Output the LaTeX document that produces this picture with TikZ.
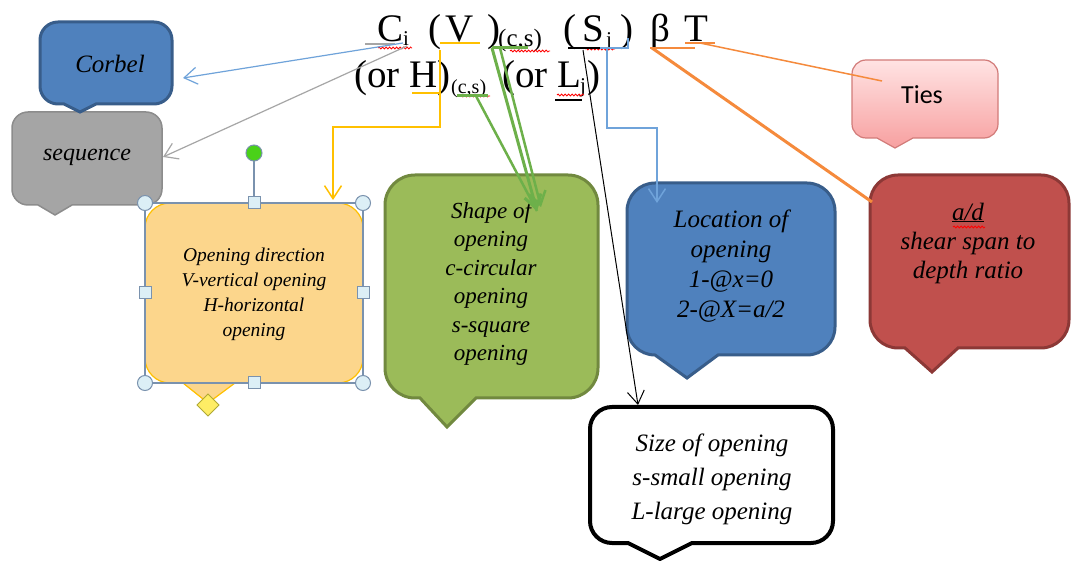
\documentclass[tikz,border=0pt]{standalone}
\usepackage{fontspec}
\setmainfont{Liberation Serif}
\newfontfamily\calibrifont{Carlito}
\usetikzlibrary{arrows.meta,decorations.pathmorphing}

\definecolor{blueFill}{HTML}{4F81BD}
\definecolor{blueEdge}{HTML}{385D8A}
\definecolor{grayFill}{HTML}{A5A5A5}
\definecolor{grayEdge}{HTML}{8C8C8C}
\definecolor{dirFill}{HTML}{FCD68C}
\definecolor{dirEdge}{HTML}{FFC000}
\definecolor{greenFill}{HTML}{9BBB59}
\definecolor{greenEdge}{HTML}{71893F}
\definecolor{redFill}{HTML}{C0504D}
\definecolor{redEdge}{HTML}{8C3836}
\definecolor{pinkTop}{HTML}{FFE3E3}
\definecolor{pinkBot}{HTML}{F7A0A0}
\definecolor{pinkEdge}{HTML}{D27B79}
\definecolor{lnBlue}{HTML}{6FA3DA}
\definecolor{lnGray}{HTML}{A6A6A6}
\definecolor{lnYellow}{HTML}{FFC000}
\definecolor{lnGreen}{HTML}{6DB04A}
\definecolor{lnOrange}{HTML}{F58A3C}
\definecolor{handleEdge}{HTML}{7A92AE}
\definecolor{handleFill}{HTML}{DCEFF6}

% rounded callout box with a pointer on its lower edge
% #1 style, #2-#5 box corners, #6 corner radius, #7/#8 pointer base, #9 pointer tip
\newcommand\callbox[9]{%
  \path[#1] (#2,{#3+#6}) arc[start angle=180,end angle=270,radius=#6]
    -- ({#4-#6},#3) arc[start angle=270,end angle=360,radius=#6]
    -- (#4,{#5-#6}) arc[start angle=0,end angle=90,radius=#6]
    -- (#8,#5) -- #9 -- (#7,#5)
    -- ({#2+#6},#5) arc[start angle=90,end angle=180,radius=#6] -- cycle;}

\begin{document}
\begin{tikzpicture}[x=1pt,y=-1pt,
  formula/.style={anchor=base west,inner sep=0pt,font=\fontsize{39}{42}\selectfont},
  formsub/.style={anchor=base west,inner sep=0pt,font=\fontsize{21}{24}\selectfont},
  formidx/.style={anchor=base west,inner sep=0pt,font=\fontsize{25}{28}\selectfont},
  formsubsmall/.style={anchor=base west,inner sep=0pt,font=\fontsize{20}{22}\selectfont},
  note/.style={align=center,inner sep=0pt},
  corbelbox/.style={fill=blueFill,draw=blueEdge,line width=3pt},
  seqbox/.style={fill=grayFill,draw=grayEdge,line width=1.5pt},
  dirbox/.style={fill=dirFill,draw=dirEdge,line width=1.2pt},
  shapebox/.style={fill=greenFill,draw=greenEdge,line width=3pt},
  locbox/.style={fill=blueFill,draw=blueEdge,line width=3pt},
  tiesbox/.style={top color=pinkTop,bottom color=pinkBot,draw=pinkEdge,line width=1.2pt},
  adbox/.style={fill=redFill,draw=redEdge,line width=3pt},
  sizebox/.style={fill=white,draw=black,line width=4pt},
  barb/.style={-{Straight Barb[length=13pt,width=17pt]}},
  thinln/.style={line width=1.2pt},
  squig/.style={red,line width=0.8pt,decorate,decoration={snake,amplitude=1pt,segment length=3.5pt}},
  handle/.style={fill=handleFill,draw=handleEdge,line width=1pt}
]
\path[fill=white] (0,0) rectangle (1072,561);
\useasboundingbox (0,0) rectangle (1072,561);

% ---- callout boxes ----
\callbox{seqbox}{12}{112}{162}{205}{16}{38}{72}{(55,215)}
\callbox{corbelbox}{40}{22}{172}{104}{18}{64}{96}{(80,112)}
\callbox{dirbox}{145}{203}{363}{383}{25}{183}{235}{(208,403)}
\callbox{shapebox}{385}{175}{598}{398}{30}{420}{476}{(447,427)}
\callbox{locbox}{627}{183}{835}{355}{28}{655}{718}{(687,378)}
\callbox{tiesbox}{852}{60}{998}{138}{14}{877}{913}{(895,148)}
\callbox{adbox}{870}{175}{1069}{348}{28}{905}{958}{(932,372)}
\callbox{sizebox}{590}{407}{833}{543}{22}{628}{692}{(660,559)}

% ---- box texts ----
\node[note,font=\itshape\fontsize{25}{30}\selectfont] (tCorbel) at (110,64) {Corbel};
\node[note,font=\itshape\fontsize{24}{28}\selectfont] (tSeq) at (87,157) {sequence};
\node[note,font=\itshape\fontsize{19.5}{25}\selectfont] (tDir) at (254,294)
  {Opening direction\\V-vertical opening\\H-horizontal\\opening};
\node[note,font=\itshape\fontsize{23}{28.5}\selectfont] (tShape) at (491,284)
  {Shape of\\opening\\c-circular\\opening\\s-square\\opening};
\node[note,font=\itshape\fontsize{25}{30}\selectfont] (tLoc) at (731,266)
  {Location of\\opening\\1-@x=0\\2-@X=a/2};
\node[note,font=\calibrifont\fontsize{26}{30}\selectfont] (tTies) at (922,95) {Ties};
\node[note,font=\itshape\fontsize{25}{29}\selectfont] (tAd) at (968,243)
  {\underline{a/d}\\shear span to\\depth ratio};
\node[note,font=\itshape\fontsize{25}{34}\selectfont] (tSize) at (712,479)
  {Size of opening\\s-small opening\\L-large opening};

% ---- selection frame around the opening-direction box ----
\draw[handleEdge,line width=1.2pt] (145,203) rectangle (363,383);
\draw[handleEdge,line width=1.2pt] (254,161) -- (254,197);
\foreach \hx/\hy in {145/203,363/203,145/383,363/383}
  \path[handle] (\hx,\hy) circle[radius=7.5];
\foreach \hx/\hy in {254/203,254/383,145/293,363/293}
  \path[handle] ({\hx-6},{\hy-6}) rectangle ({\hx+6},{\hy+6});
\path[fill=green!65!lime!80!black!90,draw=handleEdge,line width=1pt] (254,153) circle[radius=8];
\path[fill=yellow!85!orange!60,draw=olive!70,line width=1pt]
  (208,394) -- (219,405) -- (208,416) -- (197,405) -- cycle;

% ---- formula, first line ----
\node[formula] (fC) at (377,42) {C};
\node[formsub] (fi) at (403,46) {i};
\node[formula] (fP1) at (428,42) {(};
\node[formula] (fV) at (445,42) {V};
\node[formula] (fP2) at (487,42) {)};
\node[formidx] (fcs) at (498,47) {(c,s)};
\node[formula] (fP3) at (563,42) {(};
\node[formula] (fS) at (582,42) {S};
\node[formsub] (fj) at (606,47) {j};
\node[formula] (fP4) at (620,42) {)};
\node[formula] (fB) at (650,42) {β};
\node[formula] (fT) at (684,42) {T};
% ---- formula, second line ----
\node[formula] (gOH) at (354,88) {(or H)};
\node[formsubsmall] (gcs) at (451,94) {(c,s)};
\node[formula] (gOL) at (502,88) {(or L};
\node[formsub] (gj) at (580,93) {j};
\node[formula] (gP) at (587,88) {)};

% spelling marks
\draw[squig] (378,48) -- (412,48);
\draw[squig] (510,51) -- (550,51);
\draw[squig] (585,49) -- (615,49);
\draw[squig] (460,96) -- (490,96);
\draw[squig] (557,95) -- (584,95);
\draw[squig] (953,227) -- (985,227);

% ---- anchor points of the connectors ----
\coordinate (cBlueSrc) at (403,43);
\coordinate (corbelIn) at (183,78);
\coordinate (cGraySrc) at (407,46);
\coordinate (seqIn) at (163,157);
\coordinate (vTop) at (440,50);
\coordinate (vBend) at (440,127);
\coordinate (dirIn) at (333,200);
\coordinate (gTopA) at (492,48);
\coordinate (gTopB) at (500,48);
\coordinate (gLow) at (476,96);
\coordinate (shapeInA) at (537,211);
\coordinate (shapeInB) at (541,207);
\coordinate (sSrc) at (583,50);
\coordinate (sizeIn) at (638,405);
\coordinate (jTop) at (607,48);
\coordinate (jBend) at (607,128);
\coordinate (locIn) at (657,203);
\coordinate (tSrc) at (700,43);
\coordinate (tiesIn) at (882,81);
\coordinate (bSrc) at (652,48);
\coordinate (adIn) at (872,202);

% ---- connectors ----
% C_i: corbel and sequence
\draw[lnGray,thinln] (365,44) -- (395,44);
\draw[lnBlue,thinln,barb] (cBlueSrc) -- (corbelIn);
\draw[lnGray,thinln,barb] (cGraySrc) -- (seqIn);
% V / H: opening direction
\draw[lnYellow,line width=1.5pt] (440,43) -- (480,43);
\draw[lnYellow,line width=1.5pt] (412,93) -- (440,93);
\draw[lnYellow,line width=1.5pt,barb] (vTop) -- (vBend) -| (dirIn);
% (c,s): shape of opening
\draw[lnGreen,line width=3pt] (492,48) -- (528,48);
\draw[lnGreen,line width=3pt] (457,96) -- (488,96);
\draw[lnGreen,line width=3pt,barb] (gTopA) -- (shapeInA);
\draw[lnGreen,line width=2.5pt,barb] (gTopB) -- (shapeInB);
\draw[lnGreen,line width=2.5pt] (gLow) -- (shapeInA);
% S / L: size of opening
\draw[black,line width=1.3pt] (568,48) -- (600,48);
\draw[black,line width=1.3pt] (555,100) -- (582,100);
\draw[black,line width=1pt,barb] (sSrc) -- (sizeIn);
% j: location of opening
\draw[lnBlue,line width=1.5pt] (600,48) -- (628,48) -- (628,38);
\draw[lnBlue,line width=1.5pt,barb] (jTop) -- (jBend) -| (locIn);
% T: ties
\draw[lnOrange,line width=1.5pt] (685,43) -- (715,43);
\draw[lnOrange,line width=1.5pt] (tSrc) -- (tiesIn);
% beta: a/d
\draw[lnOrange,line width=2.5pt] (650,48) -- (695,48);
\draw[lnOrange,line width=3pt] (bSrc) -- (adIn);
\end{tikzpicture}
\end{document}
